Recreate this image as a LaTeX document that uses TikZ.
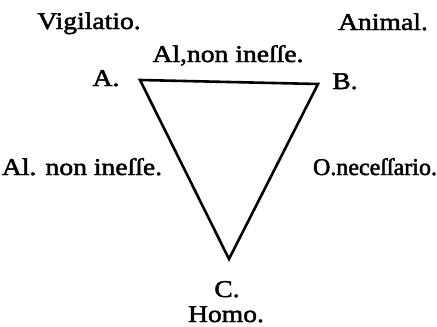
\documentclass[tikz,border=0pt]{standalone}
\usepackage{fontspec}
\setmainfont{Liberation Serif}[FakeStretch=1.15,FakeBold=2]
\newfontfamily\narrowfont{Liberation Serif}[FakeBold=2]
\begin{document}
\begin{tikzpicture}[x=1pt,y=-1pt,
  lbl/.style={anchor=base,inner sep=0pt,font=\fontsize{24}{28}\selectfont},
  edge/.style={line width=2.6pt,line join=miter}]
\useasboundingbox (0,0) rectangle (437,327);
\node[lbl] (vig) at (89,29) {Vigilatio.};
\node[lbl] (ani) at (383,30) {Animal.};
\node[lbl] (ab) at (228,62) {Al,non ineſſe.};
\node[lbl] (la) at (106,86) {A.};
\node[lbl] (lb) at (345,89) {B.};
\node[lbl] (ac) at (82,175) {Al. non ineſſe.};
\node[lbl,font=\fontsize{24}{28}\narrowfont] (bc) at (375,175) {O.neceſſario.};
\node[lbl] (lc) at (227,297) {C.};
\node[lbl] (homo) at (226,322) {Homo.};
\coordinate (A) at (140,80);
\coordinate (B) at (318,84);
\coordinate (C) at (229,259);
\draw[edge] (A) -- (B) -- (C) -- cycle;
\end{tikzpicture}
\end{document}
